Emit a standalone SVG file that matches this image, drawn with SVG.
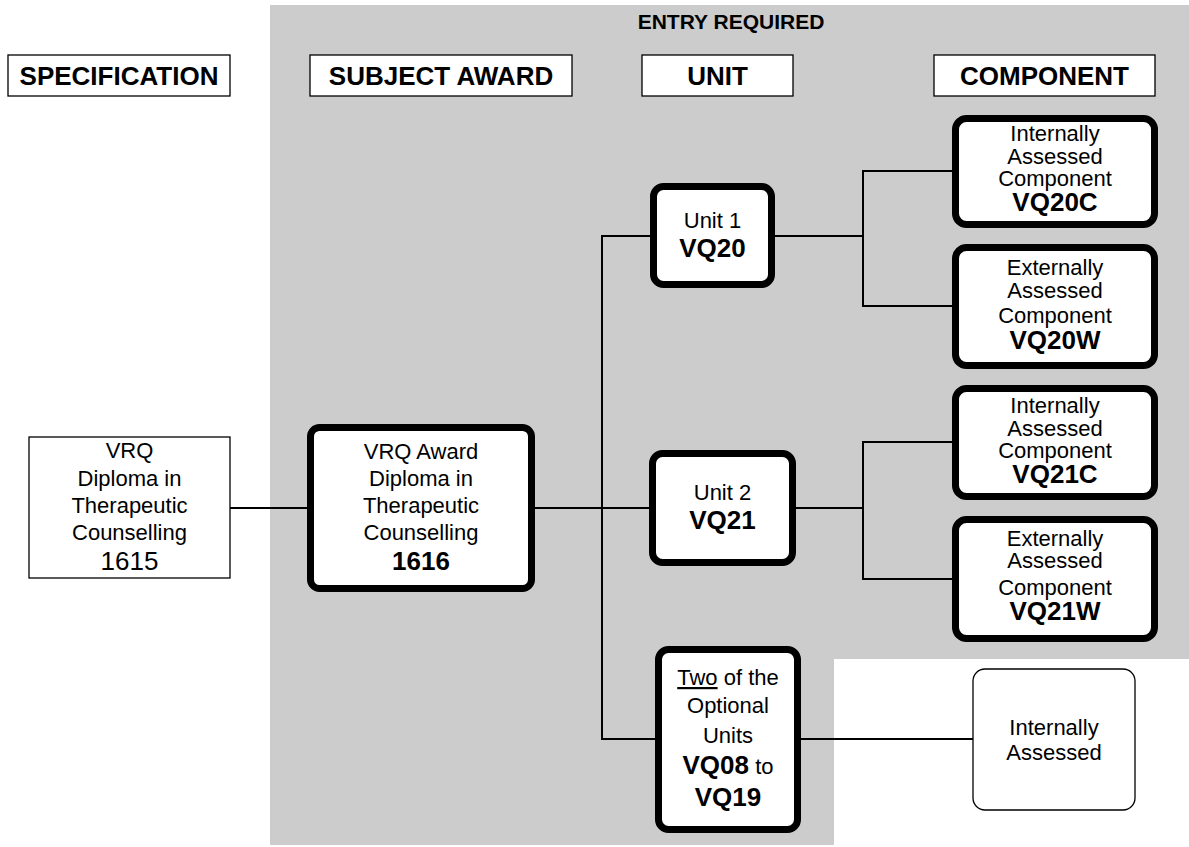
<svg xmlns="http://www.w3.org/2000/svg" width="1189" height="847" viewBox="0 0 1189 847">
  <style>
    text { font-family: "Liberation Sans", Arial, sans-serif; fill: #000; text-anchor: middle; }
    .hdr { font-size: 26px; font-weight: bold; }
    .t { font-size: 22px; }
    .b { font-size: 26px; font-weight: bold; }
    .hbox { fill: #fff; stroke: #000; stroke-width: 1.3; }
    .thin { fill: #fff; stroke: #000; stroke-width: 1.3; }
    .thick { fill: #fff; stroke: #000; stroke-width: 7; }
    .conn line { stroke: #000; stroke-width: 2; }
  </style>

  <!-- shaded "entry required" area -->
  <path id="entry-area" d="M270,5 H1189 V659 H834 V845 H270 Z" fill="#cccccc"/>
  <text x="731" y="29" style="font-size:21px;font-weight:bold">ENTRY REQUIRED</text>

  <!-- column headers -->
  <g id="hdr-spec"><rect class="hbox" x="8" y="55" width="222" height="41"/><text class="hdr" x="119" y="85">SPECIFICATION</text></g>
  <g id="hdr-award"><rect class="hbox" x="310" y="55" width="262" height="41"/><text class="hdr" x="441" y="85">SUBJECT AWARD</text></g>
  <g id="hdr-unit"><rect class="hbox" x="642" y="55" width="151" height="41"/><text class="hdr" x="717.5" y="85">UNIT</text></g>
  <g id="hdr-comp"><rect class="hbox" x="934" y="55" width="221" height="41"/><text class="hdr" x="1044.5" y="85">COMPONENT</text></g>

  <!-- connectors -->
  <g id="connectors" class="conn">
    <line x1="230" y1="508" x2="307" y2="508"/>
    <line x1="535" y1="508" x2="649" y2="508"/>
    <line x1="602" y1="236" x2="602" y2="739"/>
    <line x1="601" y1="236" x2="650" y2="236"/>
    <line x1="601" y1="739" x2="655" y2="739"/>
    <line x1="775" y1="236" x2="863" y2="236"/>
    <line x1="863" y1="170" x2="863" y2="307"/>
    <line x1="862" y1="171" x2="952" y2="171"/>
    <line x1="862" y1="306" x2="952" y2="306"/>
    <line x1="796" y1="508" x2="863" y2="508"/>
    <line x1="863" y1="441" x2="863" y2="580"/>
    <line x1="862" y1="442" x2="952" y2="442"/>
    <line x1="862" y1="579" x2="952" y2="579"/>
    <line x1="801" y1="739" x2="973" y2="739"/>
  </g>

  <!-- specification -->
  <g id="spec-1615">
    <rect class="thin" x="29" y="437" width="201" height="141"/>
    <text class="t" x="129.5" y="458">VRQ</text>
    <text class="t" x="129.5" y="486">Diploma in</text>
    <text class="t" x="129.5" y="513">Therapeutic</text>
    <text class="t" x="129.5" y="540">Counselling</text>
    <text x="129.5" y="570" style="font-size:26px">1615</text>
  </g>

  <!-- subject award -->
  <g id="award-1616">
    <rect class="thick" x="310.5" y="427.5" width="221" height="161" rx="9"/>
    <text class="t" x="421" y="459">VRQ Award</text>
    <text class="t" x="421" y="486">Diploma in</text>
    <text class="t" x="421" y="513">Therapeutic</text>
    <text class="t" x="421" y="540">Counselling</text>
    <text class="b" x="421" y="570">1616</text>
  </g>

  <!-- units -->
  <g id="unit-vq20">
    <rect class="thick" x="653.5" y="186.5" width="118" height="98" rx="10"/>
    <text class="t" x="712.5" y="228">Unit 1</text>
    <text class="b" x="712.5" y="257">VQ20</text>
  </g>
  <g id="unit-vq21">
    <rect class="thick" x="652.5" y="453.5" width="140" height="109" rx="10"/>
    <text class="t" x="722.5" y="500">Unit 2</text>
    <text class="b" x="722.5" y="529">VQ21</text>
  </g>
  <g id="unit-optional">
    <rect class="thick" x="658.5" y="649.5" width="139" height="180" rx="10"/>
    <text class="t" x="728" y="685"><tspan text-decoration="underline">Two</tspan> of the</text>
    <text class="t" x="728" y="713">Optional</text>
    <text class="t" x="728" y="743">Units</text>
    <text x="728" y="774"><tspan class="b">VQ08</tspan><tspan class="t"> to</tspan></text>
    <text class="b" x="728" y="806">VQ19</text>
  </g>

  <!-- components -->
  <g id="comp-vq20c">
    <rect class="thick" x="955.5" y="118.5" width="199" height="106" rx="11"/>
    <text class="t" x="1055" y="141">Internally</text>
    <text class="t" x="1055" y="164">Assessed</text>
    <text class="t" x="1055" y="186">Component</text>
    <text class="b" x="1055" y="211">VQ20C</text>
  </g>
  <g id="comp-vq20w">
    <rect class="thick" x="955.5" y="247.5" width="199" height="118" rx="11"/>
    <text class="t" x="1055" y="275">Externally</text>
    <text class="t" x="1055" y="298">Assessed</text>
    <text class="t" x="1055" y="323">Component</text>
    <text class="b" x="1055" y="349">VQ20W</text>
  </g>
  <g id="comp-vq21c">
    <rect class="thick" x="955.5" y="388.5" width="199" height="108" rx="11"/>
    <text class="t" x="1055" y="413">Internally</text>
    <text class="t" x="1055" y="436">Assessed</text>
    <text class="t" x="1055" y="458">Component</text>
    <text class="b" x="1055" y="483">VQ21C</text>
  </g>
  <g id="comp-vq21w">
    <rect class="thick" x="955.5" y="519.5" width="199" height="119" rx="11"/>
    <text class="t" x="1055" y="546">Externally</text>
    <text class="t" x="1055" y="568">Assessed</text>
    <text class="t" x="1055" y="595">Component</text>
    <text class="b" x="1055" y="620">VQ21W</text>
  </g>

  <!-- optional units assessment -->
  <g id="optional-assessed">
    <rect x="973" y="669" width="162" height="141" rx="12" fill="#fff" stroke="#000" stroke-width="1.3"/>
    <text class="t" x="1054" y="735">Internally</text>
    <text class="t" x="1054" y="760">Assessed</text>
  </g>
</svg>
